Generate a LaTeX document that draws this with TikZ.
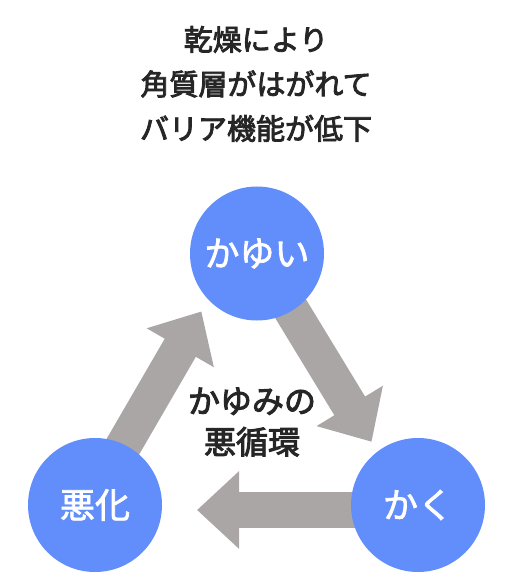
\documentclass[tikz,border=0pt]{standalone}
\usepackage{fontspec}
\setmainfont{Noto Sans CJK JP}
\newfontface\medfont{Noto Sans CJK JP}[FakeBold=3]
\newfontface\ringfont{Noto Sans CJK JP}[FakeBold=2]
\usetikzlibrary{arrows.meta,backgrounds}
\definecolor{ringblue}{RGB}{98,142,252}
\definecolor{flowgrey}{RGB}{171,166,166}

\begin{document}
\begin{tikzpicture}[
    x=1pt, y=-1pt,
    stage/.style={circle, fill=ringblue, text=white, minimum size=134pt, inner sep=0pt, font=\ringfont\fontsize{35}{35}\selectfont},
    flow/.style={-{Triangle[width=75pt,length=42pt]}, line width=36pt, draw=flowgrey},
    caption/.style={align=center, text=black!85, font=\medfont\fontsize{29}{44.5}\selectfont}
]
\useasboundingbox (0,0) rectangle (516,585);
\node[caption] (cause) at (256,84) {乾燥により\\角質層がはがれて\\バリア機能が低下};
\node[stage] (kayui) at (257,253.5) {かゆい};
\node[stage] (kaku) at (418,505) {かく};
\node[stage] (akka) at (95,505) {悪化};
\node[caption, font=\medfont\fontsize{32}{41}\selectfont] (cycle) at (252,422) {かゆみの\\悪循環};

\begin{scope}[on background layer]
\draw[flow, shorten >=74pt] (kayui.center) -- ([xshift=-8pt]kaku.center);
\draw[flow, shorten >=102pt] ([yshift=-5pt]kaku.center) -- ([yshift=-5pt]akka.center);
\draw[flow, shorten >=67pt] ([xshift=-6pt]akka.center) -- ([xshift=-22pt]kayui.center);
\end{scope}
\end{tikzpicture}
\end{document}
